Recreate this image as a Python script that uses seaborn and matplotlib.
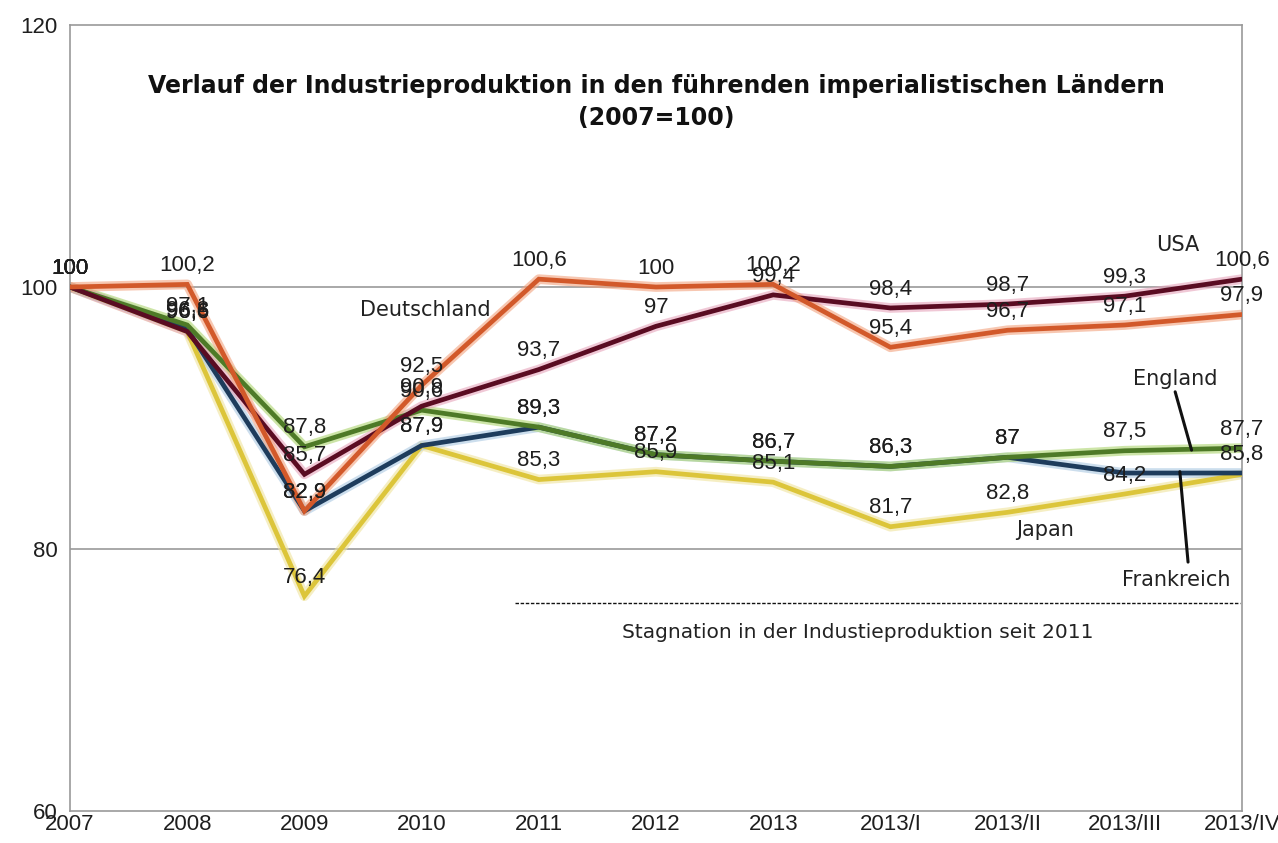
import numpy as np
import pandas as pd
import matplotlib
matplotlib.use("Agg")
import matplotlib.pyplot as plt
import seaborn as sns

# Industrieproduktion, 2007 = 100
periods = ["2007", "2008", "2009", "2010", "2011", "2012", "2013",
           "2013/I", "2013/II", "2013/III", "2013/IV"]

deutschland = [100, 100.2, 82.9, 92.5, 100.6, 100, 100.2, 95.4, 96.7, 97.1, 97.9]
usa = [100, 96.6, 85.7, 90.9, 93.7, 97, 99.4, 98.4, 98.7, 99.3, 100.6]
england = [100, 97.1, 87.8, 90.6, 89.3, 87.2, 86.7, 86.3, 87, 87.5, 87.7]
frankreich = [100, 96.8, 82.9, 87.9, 89.3, 87.2, 86.7, 86.3, 87, 85.8, 85.8]
japan = [100, 96.6, 76.4, 87.9, 85.3, 85.9, 85.1, 81.7, 82.8, 84.2, 85.7]

series = {
    "Japan": japan,
    "Frankreich": frankreich,
    "England": england,
    "USA": usa,
    "Deutschland": deutschland,
}

# (line colour, glow colour)
colors = {
    "Deutschland": ("#d2592a", "#f2a27e"),
    "USA": ("#5a0c22", "#e6a4bb"),
    "England": ("#4e7a27", "#acd46e"),
    "Frankreich": ("#1e3c5c", "#aac8e2"),
    "Japan": ("#dcc53a", "#efe39c"),
}

# value labels that are not readable in the original
hidden_labels = {"Frankreich": [9], "Japan": [10]}

rows = []
for name, vals in series.items():
    for i, v in enumerate(vals):
        rows.append({"country": name, "pos": i, "value": v})
df = pd.DataFrame(rows)

sns.set_style("white")
plt.rcParams["font.family"] = ["DejaVu Sans"]

fig, ax = plt.subplots(figsize=(12.78, 8.43), dpi=100)
fig.subplots_adjust(left=0.0548, right=0.9718, bottom=0.038, top=0.9703)

for name in series:
    sub = df[df["country"] == name]
    line_c, glow_c = colors[name]
    sns.lineplot(data=sub, x="pos", y="value", color=glow_c, lw=7, alpha=0.6,
                 ax=ax, legend=False, solid_capstyle="round", zorder=2)
    sns.lineplot(data=sub, x="pos", y="value", color=line_c, lw=3.4,
                 ax=ax, legend=False, solid_joinstyle="miter", zorder=3)

# value labels
for name, vals in series.items():
    for i, v in enumerate(vals):
        if i in hidden_labels.get(name, []):
            continue
        ax.annotate(f"{v:g}".replace(".", ","), (i, v), xytext=(0, 6),
                    textcoords="offset points", ha="center", va="bottom",
                    fontsize=16, family="Liberation Sans", color="#1e1e1e", zorder=5)

ax.set_xlim(0, len(periods) - 1)
ax.set_ylim(60, 120)
ax.set_xticks(range(len(periods)))
ax.set_xticklabels(periods, family="Liberation Sans", fontsize=16)
ax.set_yticks([60, 80, 100, 120])
ax.set_yticklabels(["60", "80", "100", "120"], family="Liberation Sans", fontsize=16)
ax.tick_params(axis="x", length=0, pad=2, colors="#1e1e1e")
ax.tick_params(axis="y", length=7, width=1, color="#999999", pad=2, labelcolor="#1e1e1e")
ax.set_xlabel("")
ax.set_ylabel("")
for sp in ax.spines.values():
    sp.set_color("#999999")
    sp.set_linewidth(1.2)
for yv in [80, 100]:
    ax.axhline(yv, color="#999999", lw=1.2, zorder=1)

# title inside the plot area
ax.text(0.5, 0.902, "Verlauf der Industrieproduktion in den führenden imperialistischen Ländern\n(2007=100)",
        transform=ax.transAxes, ha="center", va="center", fontsize=17, fontweight="bold",
        linespacing=1.45, color="#111111")

# series names
name_kw = dict(fontsize=15, color="#222222", ha="center", va="center")
ax.text(9.45, 103.2, "USA", **name_kw)
ax.text(3.03, 98.25, "Deutschland", **name_kw)
ax.text(8.32, 81.45, "Japan", **name_kw)
ax.text(9.43, 93.0, "England", **name_kw)
ax.text(9.44, 77.6, "Frankreich", **name_kw)

# leader lines from the names to their curves
ax.plot([9.43, 9.57], [92.0, 87.55], color="#111111", lw=2.2, zorder=6)
ax.plot([9.47, 9.54], [85.9, 79.0], color="#111111", lw=2.2, zorder=6)

# stagnation marker
ax.plot([3.8, 9.98], [75.9, 75.9], ls=(0, (2.5, 1.2)), color="#111111", lw=1.0, zorder=4)
ax.text(6.72, 73.6, "Stagnation in der Industieproduktion seit 2011",
        fontsize=14.5, color="#222222", ha="center", va="center")

plt.savefig("out.png", dpi=100)
plt.close()
